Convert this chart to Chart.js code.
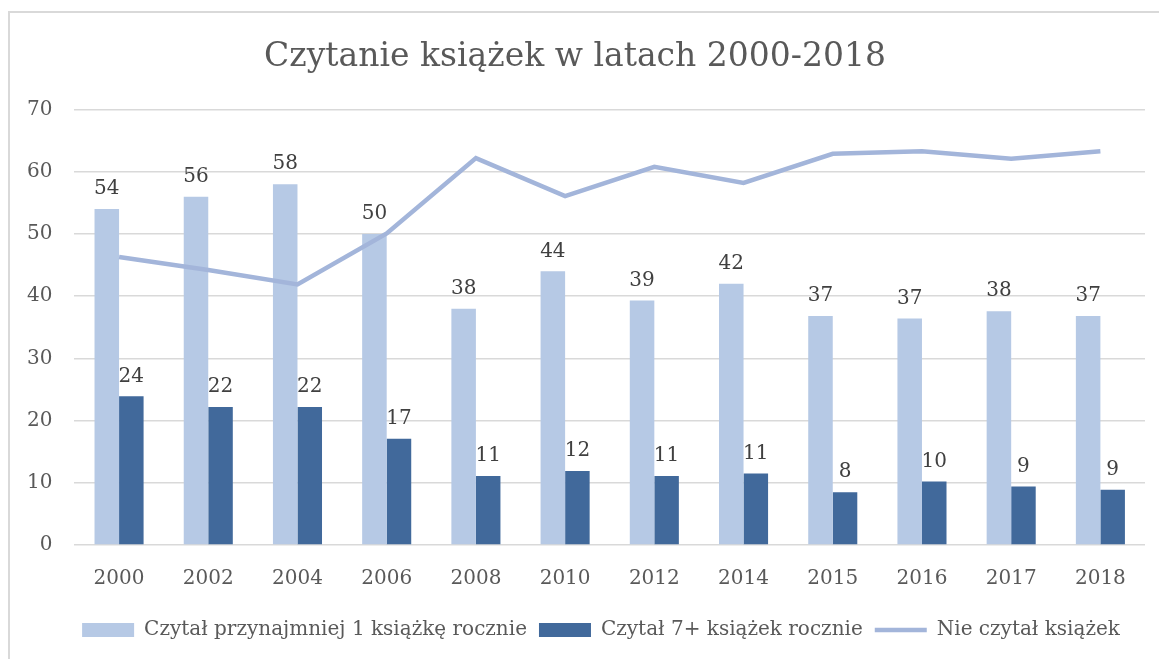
<!DOCTYPE html>
<html>
<head>
<meta charset="utf-8">
<script src="https://cdn.jsdelivr.net/npm/chart.js@4"></script>
<style>
  html, body { margin: 0; padding: 0; background: #fff; overflow: hidden; }
  #frame { position: absolute; left: 8px; top: 11px; width: 1200px; height: 700px; border: 2px solid #d9d9d9; }
  #wrap { position: absolute; left: 0; top: 0; width: 1159px; height: 659px; }
</style>
</head>
<body>
<div id="frame"></div>
<div id="wrap"><canvas id="chart"></canvas></div>
<script>
var years = ['2000', '2002', '2004', '2006', '2008', '2010', '2012', '2014', '2015', '2016', '2017', '2018'];
var readOne = [54, 56, 58, 50, 38, 44, 39.3, 42, 36.8, 36.4, 37.6, 36.8];
var readOneLabels = ['54', '56', '58', '50', '38', '44', '39', '42', '37', '37', '38', '37'];
var readSeven = [23.9, 22.2, 22.2, 17.1, 11.1, 11.9, 11.1, 11.5, 8.5, 10.2, 9.4, 8.9];
var readSevenLabels = ['24', '22', '22', '17', '11', '12', '11', '11', '8', '10', '9', '9'];
var notRead = [46.3, 44.2, 41.9, 50.1, 62.2, 56.1, 60.8, 58.2, 62.9, 63.3, 62.1, 63.3];
var yTicks = [0, 10, 20, 30, 40, 50, 60, 70];

var FONT = '"DejaVu Serif", "Liberation Serif", serif';
var TEXT = '#595959';

// labels above bars, drawn from the bar elements
var barLabels = {
  id: 'barLabels',
  afterDatasetsDraw: function(chart) {
    var ctx = chart.ctx;
    ctx.save();
    ctx.font = '20px ' + FONT;
    ctx.fillStyle = '#404040';
    ctx.textAlign = 'center';
    ctx.textBaseline = 'bottom';
    chart.data.datasets.forEach(function(ds, i) {
      if (ds.type !== 'bar' || !ds.valueLabels) return;
      var meta = chart.getDatasetMeta(i);
      meta.data.forEach(function(el, j) {
        ctx.fillText(ds.valueLabels[j], el.x, el.y - 10);
      });
    });
    ctx.restore();
  }
};

// legend in the original sits a bit right of centre
var legendShift = {
  id: 'legendShift',
  afterLayout: function(chart) {
    chart.legend.left += 26;
    chart.legend.right += 26;
  }
};

var ctx = document.getElementById('chart').getContext('2d');
new Chart(ctx, {
  data: {
    labels: years,
    datasets: [
      { type: 'bar', label: 'Czytał przynajmniej 1 książkę rocznie', data: readOne, valueLabels: readOneLabels, backgroundColor: '#b6c9e5', borderWidth: 0, pointStyle: 'rect', barPercentage: 1.0, categoryPercentage: 0.55, order: 1 },
      { type: 'bar', label: 'Czytał 7+ książek rocznie', data: readSeven, valueLabels: readSevenLabels, backgroundColor: '#41699b', borderWidth: 0, pointStyle: 'rect', barPercentage: 1.0, categoryPercentage: 0.55, order: 1 },
      { type: 'line', label: 'Nie czytał książek', data: notRead, borderColor: '#a3b5da', backgroundColor: '#a3b5da', borderWidth: 4.5, pointRadius: 0, pointStyle: 'line', tension: 0, order: 0 }
    ]
  },
  options: {
    responsive: true,
    maintainAspectRatio: false,
    animation: false,
    layout: { padding: { left: 5, right: 14, top: 10, bottom: 9 } },
    plugins: {
      title: { display: true, text: 'Czytanie książek w latach 2000-2018', color: TEXT, font: { family: FONT, size: 33, weight: 'normal' }, padding: { top: 28, bottom: 32 } },
      legend: {
        position: 'bottom',
        labels: {
          usePointStyle: true,
          pointStyleWidth: 52,
          boxHeight: 14,
          color: TEXT,
          font: { family: FONT, size: 20 },
          padding: 12,
          sort: function(a, b) { return a.datasetIndex - b.datasetIndex; }
        }
      },
      tooltip: { enabled: false }
    },
    scales: {
      x: {
        grid: { display: false },
        border: { display: false },
        ticks: { color: TEXT, font: { family: FONT, size: 20 }, padding: 14 },
        afterFit: function(axis) { axis.height += 3; }
      },
      y: {
        min: 0, max: 70,
        afterBuildTicks: function(axis) { axis.ticks = yTicks.map(function(v) { return { value: v }; }); },
        grid: { color: '#d9d9d9', lineWidth: 1.5, drawTicks: false },
        border: { display: false },
        ticks: { color: TEXT, font: { family: FONT, size: 20 }, padding: 22 }
      }
    }
  },
  plugins: [barLabels, legendShift]
});
</script>
</body>
</html>
